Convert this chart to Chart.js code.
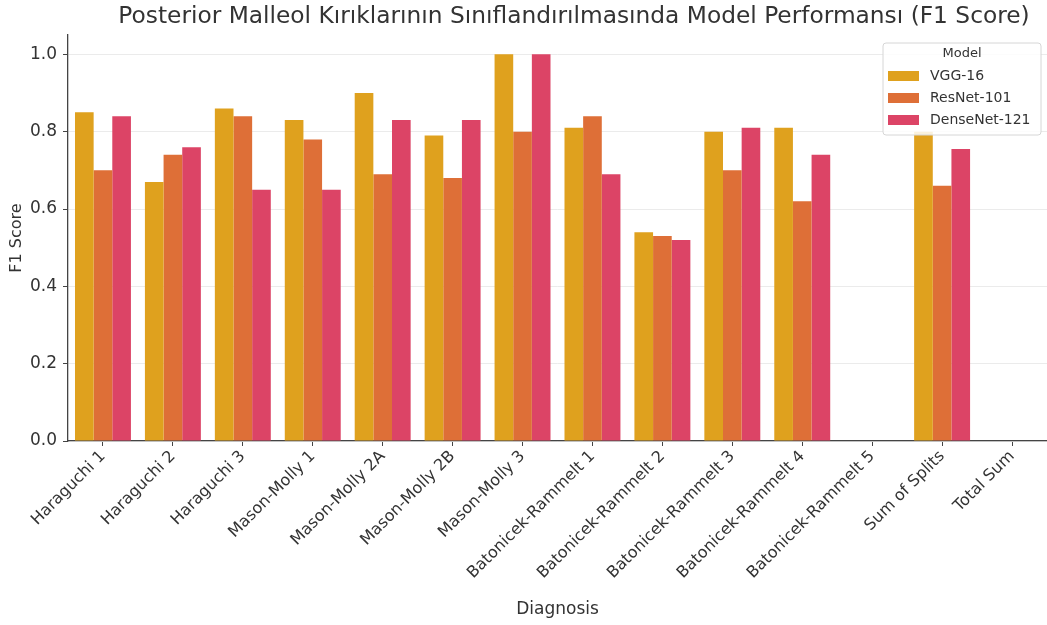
<!DOCTYPE html>
<html>
<head>
<meta charset="utf-8">
<script src="https://cdn.jsdelivr.net/npm/chart.js@4.4.1/dist/chart.umd.min.js"></script>
<style>
    html, body { margin: 0; padding: 0; background: #fff; }
    #wrap { width: 1047px; height: 625px; }
</style>
</head>
<body>
<div id="wrap"><canvas id="bar-chart" width="1047" height="625"></canvas></div>
<script>
const categories = ['Haraguchi 1', 'Haraguchi 2', 'Haraguchi 3', 'Mason-Molly 1', 'Mason-Molly 2A', 'Mason-Molly 2B',
    'Mason-Molly 3', 'Batonicek-Rammelt 1', 'Batonicek-Rammelt 2', 'Batonicek-Rammelt 3', 'Batonicek-Rammelt 4',
    'Batonicek-Rammelt 5', 'Sum of Splits', 'Total Sum'];
const models = ['VGG-16', 'ResNet-101', 'DenseNet-121'];
const vgg16 = [0.85, 0.67, 0.86, 0.83, 0.90, 0.79, 1.00, 0.81, 0.54, 0.80, 0.81, null, 0.80, null];
const resnet101 = [0.70, 0.74, 0.84, 0.78, 0.69, 0.68, 0.80, 0.84, 0.53, 0.70, 0.62, null, 0.66, null];
const densenet121 = [0.84, 0.76, 0.65, 0.65, 0.83, 0.83, 1.00, 0.69, 0.52, 0.81, 0.74, null, 0.755, null];
const yTicks = [0.0, 0.2, 0.4, 0.6, 0.8, 1.0];
const chartTitle = 'Posterior Malleol Kırıklarının Sınıflandırılmasında Model Performansı (F1 Score)';

const colors = ['#DFA11E', '#DE6F37', '#DC4466'];
const font = "'DejaVu Sans', sans-serif";
const textColor = '#333333';

// title sits a bit right of the canvas centre in the original, so draw it here
const topTitle = {
    id: 'topTitle',
    afterDraw(chart) {
        const c = chart.ctx;
        c.save();
        c.font = '23.3px ' + font;
        c.fillStyle = textColor;
        c.textAlign = 'center';
        c.textBaseline = 'middle';
        c.fillText(chartTitle, 574, 17);
        c.restore();
    }
};

// legend drawn inside the plot, top right, like the seaborn one
const boxLegend = {
    id: 'boxLegend',
    afterDraw(chart) {
        const c = chart.ctx;
        const area = chart.chartArea;
        const w = 158, h = 92;
        const x = area.right - w - 6, y = area.top + 8;
        c.save();
        c.beginPath();
        c.roundRect(x, y, w, h, 3);
        c.fillStyle = 'rgba(255,255,255,0.85)';
        c.fill();
        c.strokeStyle = '#d6d6d6';
        c.lineWidth = 1;
        c.stroke();
        c.font = '13px ' + font;
        c.fillStyle = textColor;
        c.textAlign = 'center';
        c.textBaseline = 'middle';
        c.fillText('Model', x + w / 2, y + 11);
        c.textAlign = 'left';
        chart.data.datasets.forEach(function (ds, i) {
            const ly = y + 33 + i * 22;
            c.fillStyle = ds.backgroundColor;
            c.fillRect(x + 5, ly - 5, 31, 10);
            c.fillStyle = textColor;
            c.font = '14px ' + font;
            c.fillText(ds.label, x + 47, ly);
        });
        c.restore();
    }
};

const ctx = document.getElementById('bar-chart').getContext('2d');
const chart = new Chart(ctx, {
    type: 'bar',
    data: {
        labels: categories,
        datasets: [vgg16, resnet101, densenet121].map(function (d, i) {
            return {
                label: models[i],
                data: d,
                backgroundColor: colors[i],
                borderWidth: 0,
                categoryPercentage: 0.8,
                barPercentage: 1.0
            };
        })
    },
    options: {
        responsive: false,
        animation: false,
        layout: { padding: { left: 0, right: 0, top: 35, bottom: 0 } },
        scales: {
            x: {
                grid: { offset: false, drawOnChartArea: false, tickColor: '#444', tickLength: 5 },
                border: { color: '#444', width: 1.3 },
                ticks: {
                    minRotation: 45, maxRotation: 45, autoSkip: false, padding: 1,
                    color: textColor, font: { family: font, size: 16 }
                },
                title: {
                    display: true, text: 'Diagnosis', color: textColor,
                    font: { family: font, size: 17 }, padding: { top: 4, bottom: 5 }
                },
                afterFit(scale) {
                    scale.height = 184;
                    scale.paddingLeft = 0;
                    scale.paddingRight = 0;
                }
            },
            y: {
                min: 0,
                max: 1.05,
                grid: { color: '#ebebeb', tickColor: '#444', tickLength: 5 },
                border: { color: '#444', width: 1.3 },
                ticks: {
                    padding: 6, color: textColor, font: { family: font, size: 17 },
                    callback: function (v) { return v.toFixed(1); }
                },
                afterBuildTicks(scale) {
                    scale.ticks = yTicks.map(function (v) { return { value: v }; });
                },
                title: {
                    display: true, text: 'F1 Score', color: textColor,
                    font: { family: font, size: 16 }, padding: { top: 7, bottom: 4 }
                },
                afterFit(scale) {
                    scale.width = 68;
                    scale.paddingTop = 0;
                }
            }
        },
        plugins: {
            legend: { display: false },
            tooltip: { enabled: false },
            title: { display: false }
        }
    },
    plugins: [topTitle, boxLegend]
});
</script>
</body>
</html>
